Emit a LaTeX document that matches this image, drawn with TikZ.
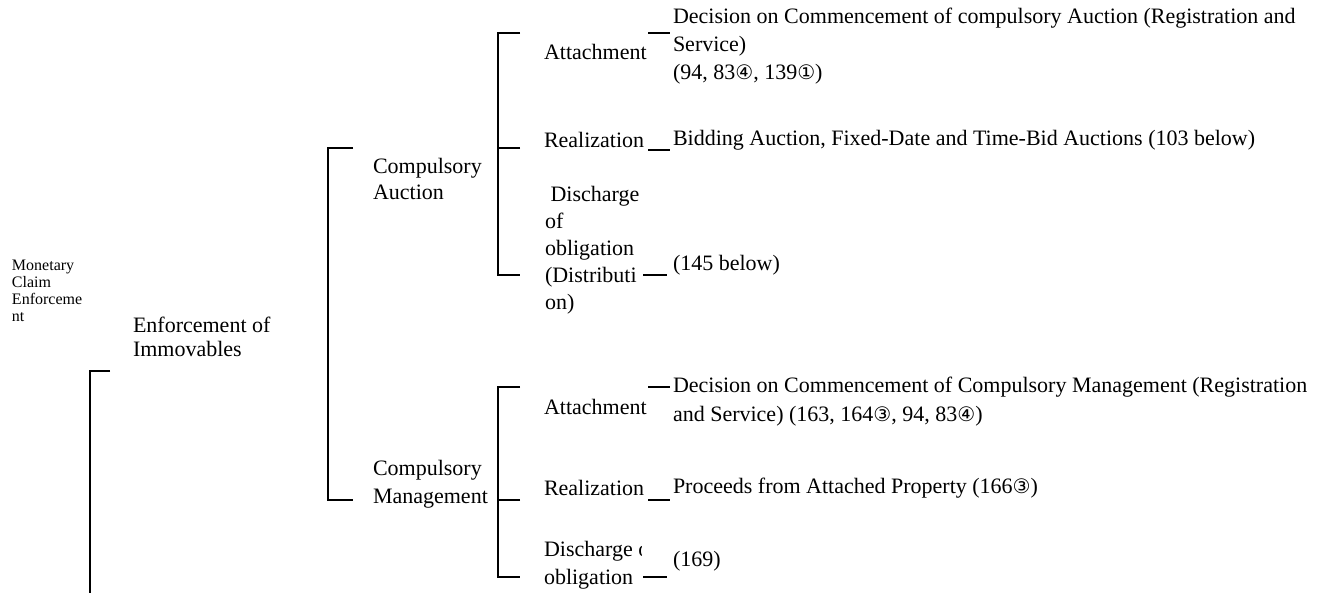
\documentclass[tikz,border=0pt]{standalone}
\usepackage{fontspec}
\setmainfont{Liberation Serif}
\newfontfamily\dvsans{DejaVu Sans}
\newcommand\circd[1]{{\dvsans\fontsize{20}{20}\selectfont #1}}
\begin{document}
\begin{tikzpicture}[x=1pt,y=-1pt,
  lbl/.style={anchor=west,inner sep=0pt,outer sep=0pt,align=left,font=\fontsize{22}{27}\selectfont},
  small/.style={anchor=west,inner sep=0pt,outer sep=0pt,align=left,font=\fontsize{16}{17}\selectfont},
  conn/.style={line width=1.7pt}]
\useasboundingbox (0,0) rectangle (1324,593);
% left labels
\node[small] (mon) at (12,291) {Monetary\\Claim\\Enforceme\\nt};
\node[lbl,font=\fontsize{22}{24}\selectfont] (enf) at (133,337) {Enforcement of\\Immovables};
% level 2
\node[lbl,font=\fontsize{22}{26}\selectfont] (ca) at (373,179) {Compulsory\\Auction};
\node[lbl,font=\fontsize{22}{28}\selectfont] (cm) at (373,484) {Compulsory\\Management};
% level 3 auction
\node[lbl] (a1) at (544,52) {Attachment};
\node[lbl] (r1) at (544,140) {Realization};
\node[lbl] (d1) at (545,250) {\ Discharge\\of\\obligation\\(Distributi\\on)};
% level 3 management
\node[lbl] (a2) at (544,407) {Attachment};
\node[lbl] (r2) at (544,488) {Realization};
\begin{scope}
\clip (540,530) rectangle (641,593);
\node[lbl,font=\fontsize{22}{28}\selectfont] (d2) at (544,565) {Discharge of\\obligation};
\end{scope}
% right texts
\node[lbl,font=\fontsize{22}{28}\selectfont] (t1) at (673,46) {Decision on Commencement of compulsory Auction (Registration and\\Service)\\(94, 83\circd{④}, 139\circd{①})};
\node[lbl] (t2) at (673,140) {Bidding Auction, Fixed-Date and Time-Bid Auctions (103 below)};
\node[lbl] (t3) at (673,265) {(145 below)};
\node[lbl,font=\fontsize{22}{29}\selectfont] (t4) at (673,402) {Decision on Commencement of Compulsory Management (Registration\\and Service) (163, 164\circd{③}, 94, 83\circd{④})};
\node[lbl] (t5) at (673,488) {Proceeds from Attached Property (166\circd{③})};
\node[lbl] (t6) at (673,561) {(169)};
% bracket coordinates
\coordinate (b1t) at (110,371);
\coordinate (b1b) at (90,593);
\coordinate (b2t) at (353,148);
\coordinate (b2b) at (353,500);
\coordinate (b3t) at (520,33);
\coordinate (b3m) at (520,148);
\coordinate (b3b) at (520,275);
\coordinate (b4t) at (520,387);
\coordinate (b4m) at (520,500);
\coordinate (b4b) at (520,577);
% brackets
\draw[conn] (b1t) -| (b1b);
\draw[conn] (b2t) -- ++(-25,0) |- (b2b);
\draw[conn] (b3t) -- ++(-22,0) |- (b3b);
\draw[conn] (b3m) -- ++(-22,0);
\draw[conn] (b4t) -- ++(-22,0) |- (b4b);
\draw[conn] (b4m) -- ++(-22,0);
% short connectors
\coordinate (l1a) at (648,33);  \coordinate (l1b) at (670,33);
\coordinate (l2a) at (648,150); \coordinate (l2b) at (670,150);
\coordinate (l3a) at (643,275); \coordinate (l3b) at (667,275);
\coordinate (l4a) at (648,387); \coordinate (l4b) at (670,387);
\coordinate (l5a) at (648,500); \coordinate (l5b) at (670,500);
\coordinate (l6a) at (643,577); \coordinate (l6b) at (667,577);
\draw[conn] (l1a) -- (l1b);
\draw[conn] (l2a) -- (l2b);
\draw[conn] (l3a) -- (l3b);
\draw[conn] (l4a) -- (l4b);
\draw[conn] (l5a) -- (l5b);
\draw[conn] (l6a) -- (l6b);
\end{tikzpicture}
\end{document}
